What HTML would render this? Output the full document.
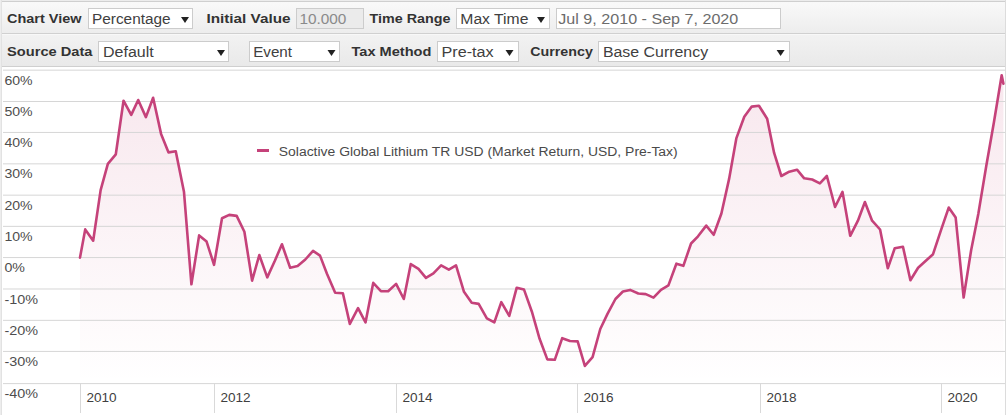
<!DOCTYPE html>
<html><head><meta charset="utf-8"><title>Chart</title>
<style>html,body{margin:0;padding:0;background:#fff;width:1007px;height:415px;overflow:hidden}
svg text{font-family:"Liberation Sans", sans-serif}</style></head>
<body><svg width="1007" height="415" viewBox="0 0 1007 415" style="display:block"><defs><linearGradient id="tbg1" x1="0" y1="0" x2="0" y2="1"><stop offset="0" stop-color="#f9f9f9"/><stop offset="1" stop-color="#ededed"/></linearGradient><linearGradient id="tbg2" x1="0" y1="0" x2="0" y2="1"><stop offset="0" stop-color="#f2f2f2"/><stop offset="1" stop-color="#e9e9e9"/></linearGradient><linearGradient id="af" x1="0" y1="0" x2="0" y2="1"><stop offset="0" stop-color="#c2386c" stop-opacity="0.12"/><stop offset="1" stop-color="#c2386c" stop-opacity="0.0"/></linearGradient></defs>
<rect x="0" y="0" width="1007" height="415" fill="#fff"/>
<rect x="0" y="0" width="1006" height="1" fill="#ececec"/>
<rect x="0" y="0" width="1" height="415" fill="#ededed"/>
<rect x="1" y="0" width="1" height="415" fill="#e2e2e2"/>
<rect x="1005" y="0" width="1" height="415" fill="#dcdcdc"/>
<rect x="2" y="1" width="1003" height="1" fill="#cfcfcf"/>
<rect x="2" y="2" width="1003" height="31" fill="url(#tbg1)"/>
<rect x="2" y="33" width="1003" height="1" fill="#d0d0d0"/>
<rect x="2" y="34" width="1003" height="1" fill="#f8f8f8"/>
<rect x="2" y="35" width="1003" height="31" fill="url(#tbg2)"/>
<rect x="2" y="66" width="1003" height="1" fill="#cfcfcf"/>
<text x="7" y="23.3" font-size="12" font-weight="bold" fill="#333" textLength="74.5" lengthAdjust="spacingAndGlyphs">Chart View</text>
<rect x="88.5" y="8.5" width="104" height="20" fill="#fff" stroke="#cccccc" stroke-width="1"/>
<text x="92" y="24.4" font-size="14" font-weight="normal" fill="#404040" textLength="78.6" lengthAdjust="spacingAndGlyphs">Percentage</text>
<path d="M181 17H189L185.0 23Z" fill="#222"/>
<text x="206.4" y="23.3" font-size="12" font-weight="bold" fill="#333" textLength="84.1" lengthAdjust="spacingAndGlyphs">Initial Value</text>
<rect x="296.5" y="8.5" width="67" height="20" fill="#ebebeb" stroke="#cccccc" stroke-width="1"/>
<text x="299.4" y="24.4" font-size="14" font-weight="normal" fill="#8a8a8a" textLength="47.0" lengthAdjust="spacingAndGlyphs">10.000</text>
<text x="369.5" y="23.3" font-size="12" font-weight="bold" fill="#333" textLength="80.9" lengthAdjust="spacingAndGlyphs">Time Range</text>
<rect x="456.5" y="8.5" width="93" height="20" fill="#fff" stroke="#cccccc" stroke-width="1"/>
<text x="460.3" y="24.4" font-size="14" font-weight="normal" fill="#404040" textLength="68.1" lengthAdjust="spacingAndGlyphs">Max Time</text>
<path d="M537 17H545L541.0 23Z" fill="#222"/>
<rect x="556.5" y="8.5" width="224" height="20" fill="#fff" stroke="#cccccc" stroke-width="1"/>
<text x="558.3" y="24.4" font-size="14" font-weight="normal" fill="#6c6c6c" textLength="180.0" lengthAdjust="spacingAndGlyphs">Jul 9, 2010 - Sep 7, 2020</text>
<text x="7.1" y="56.3" font-size="12" font-weight="bold" fill="#333" textLength="85.4" lengthAdjust="spacingAndGlyphs">Source Data</text>
<rect x="98.5" y="41.5" width="130" height="20" fill="#fff" stroke="#cccccc" stroke-width="1"/>
<text x="103" y="57.4" font-size="14" font-weight="normal" fill="#404040" textLength="50.7" lengthAdjust="spacingAndGlyphs">Default</text>
<path d="M217 50H225L221.0 56Z" fill="#222"/>
<rect x="249.5" y="41.5" width="90" height="20" fill="#fff" stroke="#cccccc" stroke-width="1"/>
<text x="253.2" y="57.4" font-size="14" font-weight="normal" fill="#404040" textLength="38.8" lengthAdjust="spacingAndGlyphs">Event</text>
<path d="M327.5 50H335.5L331.5 56Z" fill="#222"/>
<text x="351.5" y="56.3" font-size="12" font-weight="bold" fill="#333" textLength="79.9" lengthAdjust="spacingAndGlyphs">Tax Method</text>
<rect x="437.5" y="41.5" width="81" height="20" fill="#fff" stroke="#cccccc" stroke-width="1"/>
<text x="441.5" y="57.4" font-size="14" font-weight="normal" fill="#404040" textLength="52.1" lengthAdjust="spacingAndGlyphs">Pre-tax</text>
<path d="M505.5 50H513.5L509.5 56Z" fill="#222"/>
<text x="530.3" y="56.3" font-size="12" font-weight="bold" fill="#333" textLength="62.5" lengthAdjust="spacingAndGlyphs">Currency</text>
<rect x="598.5" y="41.5" width="191" height="20" fill="#fff" stroke="#cccccc" stroke-width="1"/>
<text x="602.9" y="57.4" font-size="14" font-weight="normal" fill="#404040" textLength="105.2" lengthAdjust="spacingAndGlyphs">Base Currency</text>
<path d="M776.6 50H784.6L780.6 56Z" fill="#222"/>
<path d="M80.00,383.5 L80.00,257.60 L85.22,229.40 L93.18,240.70 L100.64,190.10 L107.85,163.80 L115.81,154.30 L123.52,100.70 L131.23,114.90 L138.20,100.00 L145.91,117.10 L153.12,97.80 L161.08,133.90 L168.54,152.40 L175.75,151.30 L183.96,191.70 L191.42,284.30 L199.13,235.40 L206.59,241.60 L214.05,264.80 L222.01,218.20 L229.22,214.90 L236.68,215.90 L244.39,231.80 L252.10,280.60 L259.31,255.00 L267.27,277.40 L274.98,260.50 L281.94,244.30 L290.15,267.80 L297.61,266.10 L305.32,259.50 L313.03,250.90 L320.00,255.60 L326.96,273.80 L335.17,292.80 L342.88,293.30 L349.84,323.90 L358.05,308.20 L365.51,322.40 L373.22,282.90 L380.93,291.10 L388.14,291.30 L396.10,283.90 L403.81,299.00 L410.77,264.10 L418.48,268.90 L425.94,277.80 L433.40,273.30 L441.11,265.30 L448.82,269.60 L456.03,265.30 L463.99,291.80 L471.70,302.70 L478.67,303.90 L486.87,318.30 L494.33,322.40 L501.30,302.20 L509.26,315.90 L516.72,287.70 L523.93,289.40 L531.89,311.70 L539.60,338.80 L547.31,359.40 L554.77,359.80 L562.23,338.20 L569.94,341.00 L577.65,341.40 L584.86,365.90 L592.57,357.20 L600.28,329.00 L607.49,313.90 L615.45,299.00 L622.91,291.50 L630.12,289.90 L638.33,293.50 L645.79,294.10 L653.50,297.60 L660.96,289.80 L668.42,285.40 L676.38,263.70 L683.35,265.80 L691.06,243.50 L698.02,236.30 L706.23,225.60 L713.69,234.80 L721.40,213.50 L729.11,178.90 L736.32,138.40 L744.28,116.70 L751.74,106.60 L758.95,105.70 L767.16,118.70 L774.12,152.90 L781.33,176.00 L789.29,171.70 L797.00,169.70 L804.21,178.30 L812.17,179.50 L819.88,183.30 L826.85,176.00 L835.05,207.00 L842.51,191.90 L850.22,235.80 L857.93,220.70 L864.90,202.00 L872.11,220.70 L880.07,229.50 L887.78,268.30 L894.74,248.30 L902.95,246.70 L910.41,280.30 L918.12,267.70 L925.83,260.80 L933.04,254.20 L941.00,230.10 L948.71,207.60 L955.67,217.60 L963.63,297.50 L971.09,250.50 L978.30,214.00 L986.26,166.00 L993.97,122.00 L1001.68,75.30 L1003.42,83.70 L1003.42,383.5 Z" fill="url(#af)" stroke="none"/>
<rect x="3" y="69.64" width="1002" height="1" fill="#d6d6d6"/>
<rect x="3" y="100.98" width="1002" height="1" fill="#d6d6d6"/>
<rect x="3" y="131.94" width="1002" height="1" fill="#d6d6d6"/>
<rect x="3" y="163.34" width="1002" height="1" fill="#d6d6d6"/>
<rect x="3" y="194.66" width="1002" height="1" fill="#d6d6d6"/>
<rect x="3" y="225.86" width="1002" height="1" fill="#d6d6d6"/>
<rect x="3" y="257.06" width="1002" height="1" fill="#d6d6d6"/>
<rect x="3" y="288.49" width="1002" height="1" fill="#d6d6d6"/>
<rect x="3" y="319.84" width="1002" height="1" fill="#d6d6d6"/>
<rect x="3" y="350.91" width="1002" height="1" fill="#d6d6d6"/>
<rect x="3" y="383.10" width="1002" height="1" fill="#d6d6d6"/>
<rect x="80" y="383" width="1" height="30" fill="#d9d9d9"/>
<rect x="214" y="383" width="1" height="30" fill="#d9d9d9"/>
<rect x="396" y="383" width="1" height="30" fill="#d9d9d9"/>
<rect x="577" y="383" width="1" height="30" fill="#d9d9d9"/>
<rect x="760" y="383" width="1" height="30" fill="#d9d9d9"/>
<rect x="941" y="383" width="1" height="30" fill="#d9d9d9"/>
<text x="4.4" y="85" font-size="12" font-weight="normal" fill="#4d4d4d" textLength="28.2" lengthAdjust="spacingAndGlyphs">60%</text>
<text x="4.4" y="116" font-size="12" font-weight="normal" fill="#4d4d4d" textLength="28.2" lengthAdjust="spacingAndGlyphs">50%</text>
<text x="4.4" y="147" font-size="12" font-weight="normal" fill="#4d4d4d" textLength="28.2" lengthAdjust="spacingAndGlyphs">40%</text>
<text x="4.4" y="178" font-size="12" font-weight="normal" fill="#4d4d4d" textLength="28.2" lengthAdjust="spacingAndGlyphs">30%</text>
<text x="4.4" y="210" font-size="12" font-weight="normal" fill="#4d4d4d" textLength="28.2" lengthAdjust="spacingAndGlyphs">20%</text>
<text x="4.4" y="241" font-size="12" font-weight="normal" fill="#4d4d4d" textLength="28.2" lengthAdjust="spacingAndGlyphs">10%</text>
<text x="4.4" y="272" font-size="12" font-weight="normal" fill="#4d4d4d" textLength="20.5" lengthAdjust="spacingAndGlyphs">0%</text>
<text x="4.4" y="304" font-size="12" font-weight="normal" fill="#4d4d4d" textLength="33.6" lengthAdjust="spacingAndGlyphs">-10%</text>
<text x="4.4" y="335" font-size="12" font-weight="normal" fill="#4d4d4d" textLength="33.6" lengthAdjust="spacingAndGlyphs">-20%</text>
<text x="4.4" y="366" font-size="12" font-weight="normal" fill="#4d4d4d" textLength="33.6" lengthAdjust="spacingAndGlyphs">-30%</text>
<text x="4.4" y="398" font-size="12" font-weight="normal" fill="#4d4d4d" textLength="33.6" lengthAdjust="spacingAndGlyphs">-40%</text>
<text x="86.4" y="402" font-size="12" font-weight="normal" fill="#404040" textLength="30.2" lengthAdjust="spacingAndGlyphs">2010</text>
<text x="220.4" y="402" font-size="12" font-weight="normal" fill="#404040" textLength="30.2" lengthAdjust="spacingAndGlyphs">2012</text>
<text x="402.4" y="402" font-size="12" font-weight="normal" fill="#404040" textLength="30.2" lengthAdjust="spacingAndGlyphs">2014</text>
<text x="583.4" y="402" font-size="12" font-weight="normal" fill="#404040" textLength="30.2" lengthAdjust="spacingAndGlyphs">2016</text>
<text x="766.4" y="402" font-size="12" font-weight="normal" fill="#404040" textLength="30.2" lengthAdjust="spacingAndGlyphs">2018</text>
<text x="947.4" y="402" font-size="12" font-weight="normal" fill="#404040" textLength="30.2" lengthAdjust="spacingAndGlyphs">2020</text>
<polyline points="80.00,257.60 85.22,229.40 93.18,240.70 100.64,190.10 107.85,163.80 115.81,154.30 123.52,100.70 131.23,114.90 138.20,100.00 145.91,117.10 153.12,97.80 161.08,133.90 168.54,152.40 175.75,151.30 183.96,191.70 191.42,284.30 199.13,235.40 206.59,241.60 214.05,264.80 222.01,218.20 229.22,214.90 236.68,215.90 244.39,231.80 252.10,280.60 259.31,255.00 267.27,277.40 274.98,260.50 281.94,244.30 290.15,267.80 297.61,266.10 305.32,259.50 313.03,250.90 320.00,255.60 326.96,273.80 335.17,292.80 342.88,293.30 349.84,323.90 358.05,308.20 365.51,322.40 373.22,282.90 380.93,291.10 388.14,291.30 396.10,283.90 403.81,299.00 410.77,264.10 418.48,268.90 425.94,277.80 433.40,273.30 441.11,265.30 448.82,269.60 456.03,265.30 463.99,291.80 471.70,302.70 478.67,303.90 486.87,318.30 494.33,322.40 501.30,302.20 509.26,315.90 516.72,287.70 523.93,289.40 531.89,311.70 539.60,338.80 547.31,359.40 554.77,359.80 562.23,338.20 569.94,341.00 577.65,341.40 584.86,365.90 592.57,357.20 600.28,329.00 607.49,313.90 615.45,299.00 622.91,291.50 630.12,289.90 638.33,293.50 645.79,294.10 653.50,297.60 660.96,289.80 668.42,285.40 676.38,263.70 683.35,265.80 691.06,243.50 698.02,236.30 706.23,225.60 713.69,234.80 721.40,213.50 729.11,178.90 736.32,138.40 744.28,116.70 751.74,106.60 758.95,105.70 767.16,118.70 774.12,152.90 781.33,176.00 789.29,171.70 797.00,169.70 804.21,178.30 812.17,179.50 819.88,183.30 826.85,176.00 835.05,207.00 842.51,191.90 850.22,235.80 857.93,220.70 864.90,202.00 872.11,220.70 880.07,229.50 887.78,268.30 894.74,248.30 902.95,246.70 910.41,280.30 918.12,267.70 925.83,260.80 933.04,254.20 941.00,230.10 948.71,207.60 955.67,217.60 963.63,297.50 971.09,250.50 978.30,214.00 986.26,166.00 993.97,122.00 1001.68,75.30 1003.42,83.70" fill="none" stroke="#c5427a" stroke-width="2.6" stroke-linejoin="round" stroke-linecap="round"/>
<rect x="257" y="149" width="12" height="3" fill="#c5427a"/>
<text x="278.8" y="155.7" font-size="12" font-weight="normal" fill="#4a4a4a" textLength="398.9" lengthAdjust="spacingAndGlyphs">Solactive Global Lithium TR USD (Market Return, USD, Pre-Tax)</text></svg></body></html>
